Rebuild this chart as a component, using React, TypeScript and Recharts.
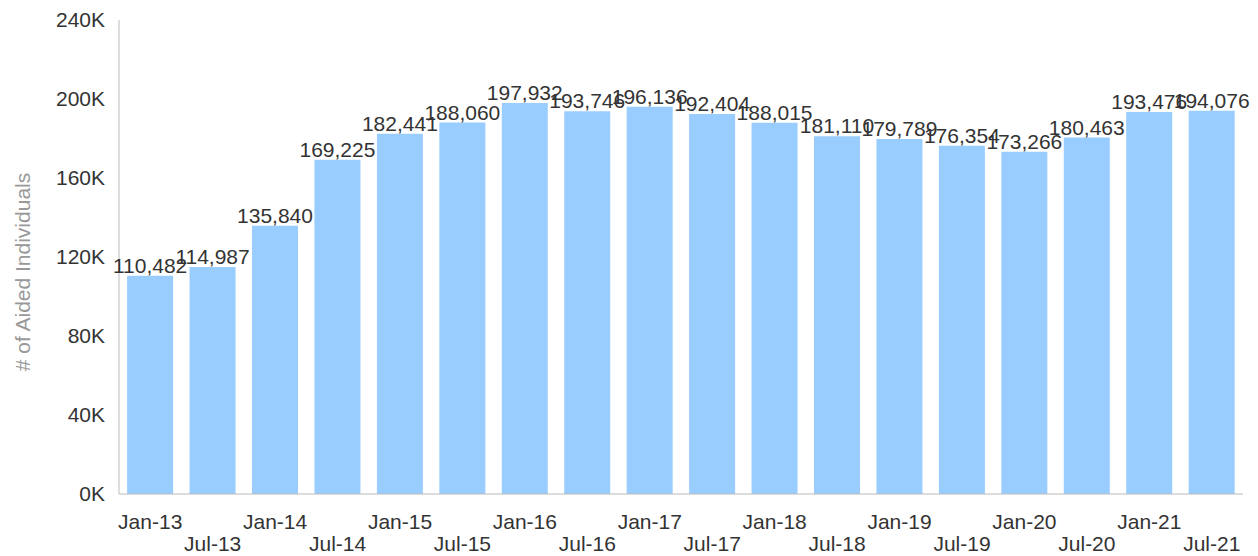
import { Bar, BarChart, LabelList, XAxis, YAxis } from 'recharts';

const months = [
  'Jan-13', 'Jul-13', 'Jan-14', 'Jul-14', 'Jan-15', 'Jul-15', 'Jan-16', 'Jul-16', 'Jan-17',
  'Jul-17', 'Jan-18', 'Jul-18', 'Jan-19', 'Jul-19', 'Jan-20', 'Jul-20', 'Jan-21', 'Jul-21',
];

const aided = [
  110482, 114987, 135840, 169225, 182441, 188060, 197932, 193746, 196136,
  192404, 188015, 181110, 179789, 176354, 173266, 180463, 193476, 194076,
];

const yTicks = [0, 40000, 80000, 120000, 160000, 200000, 240000];

const data = months.map((m, i) => ({ month: m, value: aided[i] }));

const FONT = '"Liberation Sans", Arial, sans-serif';
const FS = 21;

function StaggerTick(props: any) {
  const { x, y, payload, index } = props;
  return (
    <text
      x={x}
      y={y}
      dy={index % 2 === 0 ? 27 : 49}
      textAnchor="middle"
      fill="#333"
      fontSize={FS}
      fontFamily={FONT}
    >
      {payload.value}
    </text>
  );
}

function AxisTitle() {
  return (
    <text
      x={22}
      y={272}
      transform="rotate(-90 22 272)"
      textAnchor="middle"
      dominantBaseline="central"
      fill="#999"
      fontSize={FS}
      fontFamily={FONT}
    >
      # of Aided Individuals
    </text>
  );
}

export default function App() {
  return (
    <div style={{ position: 'absolute', left: 0, top: 0, background: '#fff' }}>
      <BarChart
        width={1258}
        height={556}
        data={data}
        margin={{ top: 20, right: 15, left: 0, bottom: 0 }}
        barCategoryGap="13%"
      >
        <XAxis
          dataKey="month"
          interval={0}
          tickLine={false}
          axisLine={{ stroke: '#bbb' }}
          height={62}
          tick={<StaggerTick />}
        />
        <YAxis
          width={119}
          domain={[0, 240000]}
          ticks={yTicks}
          tickLine={false}
          tickMargin={8}
          axisLine={{ stroke: '#bbb' }}
          tickFormatter={(v: number) => `${v / 1000}K`}
          tick={{ fill: '#333', fontSize: FS, fontFamily: FONT }}
          label={{ content: () => <AxisTitle /> }}
        />
        <Bar dataKey="value" fill="#99ccff" isAnimationActive={false}>
          <LabelList
            dataKey="value"
            position="top"
            offset={3}
            formatter={(v: any) => Number(v).toLocaleString('en-US')}
            style={{ fill: '#333', fontSize: FS, fontFamily: FONT }}
          />
        </Bar>
      </BarChart>
    </div>
  );
}
